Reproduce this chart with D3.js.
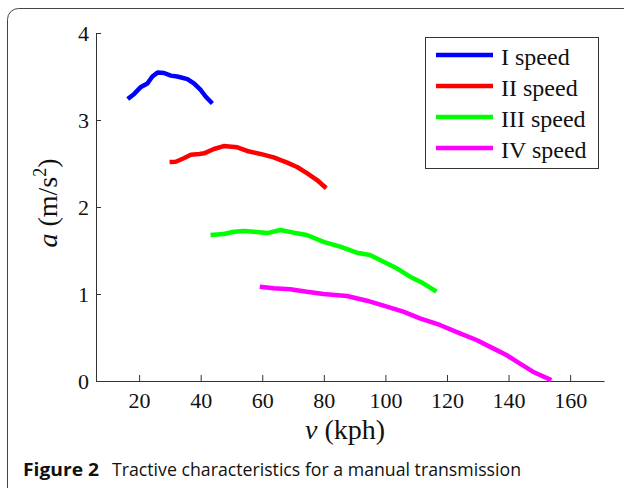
<!DOCTYPE html>
<html><head><meta charset="utf-8">
<script src="https://cdn.jsdelivr.net/npm/d3@7"></script>
<style>body{margin:0;background:#fff}svg{display:block}</style>
</head><body><svg id="c" width="624" height="488"></svg>
<script>
const seriesNames = ["I speed", "II speed", "III speed", "IV speed"];
const seriesColors = ["#0000ff", "#ff0000", "#00ff00", "#ff00ff"];
const xTicks = [20, 40, 60, 80, 100, 120, 140, 160];
const yTicks = [0, 1, 2, 3, 4];
const gear1X = [16.3, 18.4, 20.6, 22.7, 24.3, 26.0, 28.1, 30.3, 32.4, 35.7, 37.8, 40.0, 41.6, 43.8];
const gear1Y = [3.24, 3.30, 3.38, 3.42, 3.50, 3.545, 3.54, 3.51, 3.50, 3.47, 3.42, 3.345, 3.27, 3.19];
const gear2X = [29.9, 31.9, 34.5, 36.8, 39.6, 41.1, 44.3, 47.5, 51.9, 55.1, 59.4, 63.7, 68.1, 71.3, 74.5, 77.8, 80.8];
const gear2Y = [2.517, 2.52, 2.56, 2.60, 2.61, 2.617, 2.667, 2.70, 2.686, 2.644, 2.61, 2.57, 2.51, 2.46, 2.39, 2.31, 2.215];
const gear3X = [43.2, 47.5, 50.8, 54.0, 57.3, 61.6, 65.9, 70.2, 74.5, 79.9, 85.3, 90.7, 95.0, 99.4, 103.7, 108.0, 112.3, 116.6];
const gear3Y = [1.678, 1.69, 1.716, 1.724, 1.716, 1.70, 1.736, 1.705, 1.678, 1.60, 1.544, 1.475, 1.448, 1.371, 1.295, 1.199, 1.123, 1.027];
const gear4X = [59.2, 63.7, 69.1, 74.5, 79.9, 87.5, 94.0, 99.4, 105.8, 111.2, 117.7, 124.2, 129.6, 135.0, 139.3, 143.6, 147.9, 153.9];
const gear4Y = [1.084, 1.065, 1.054, 1.027, 1.0, 0.977, 0.923, 0.866, 0.797, 0.72, 0.644, 0.548, 0.471, 0.375, 0.299, 0.203, 0.107, 0.01];

const series = [[gear1X, gear1Y], [gear2X, gear2Y], [gear3X, gear3Y], [gear4X, gear4Y]]
  .map(([xs, ys], i) => ({name: seriesNames[i], color: seriesColors[i], pts: xs.map((x, j) => [x, ys[j]])}));

const svg = d3.select("#c");
// outer frame
svg.append("rect").attr("x", 7.5).attr("y", 8.5).attr("width", 640).attr("height", 500)
  .attr("rx", 11).attr("fill", "none").attr("stroke", "#444").attr("stroke-width", 1);

const x = d3.scaleLinear().domain([6, 171]).range([96, 604]);
const y = d3.scaleLinear().domain([0, 4]).range([381, 33]);
const serif = "'Liberation Serif', 'Times New Roman', serif";

const xAxis = svg.append("g").attr("transform", "translate(0,381)")
  .call(d3.axisBottom(x).tickValues(xTicks).tickFormat(d3.format("d")).tickSizeInner(-6).tickSizeOuter(0).tickPadding(14));
const yAxis = svg.append("g").attr("transform", "translate(96,0)")
  .call(d3.axisLeft(y).tickValues(yTicks).tickFormat(d3.format("d")).tickSizeInner(-5).tickSizeOuter(0).tickPadding(7));
[xAxis, yAxis].forEach(g => {
  g.select(".domain").attr("stroke", "#333");
  g.selectAll(".tick line").attr("stroke", "#333");
  g.selectAll("text").attr("font-family", serif).attr("font-size", 22).attr("fill", "#111");
});
xAxis.selectAll("text").attr("dy", "0.71em").attr("y", 11);
yAxis.selectAll("text").attr("dy", "0.34em");

const line = d3.line().x(d => x(d[0])).y(d => y(d[1]));
svg.append("g").selectAll("path").data(series).join("path")
  .attr("d", d => line(d.pts)).attr("fill", "none").attr("stroke", d => d.color)
  .attr("stroke-width", 4.5).attr("stroke-linejoin", "round");

// axis labels
const xl = svg.append("text").attr("x", 345).attr("y", 439).attr("text-anchor", "middle")
  .attr("font-family", serif).attr("font-size", 28).attr("fill", "#111");
xl.append("tspan").attr("font-style", "italic").text("v");
xl.append("tspan").text(" (kph)");

const yl = svg.append("text").attr("transform", "translate(57,203) rotate(-90)").attr("text-anchor", "middle")
  .attr("font-family", serif).attr("font-size", 28).attr("fill", "#111");
yl.append("tspan").attr("font-style", "italic").text("a");
yl.append("tspan").text(" (m/s");
yl.append("tspan").attr("font-size", 18).attr("dy", -11).text("2");
yl.append("tspan").attr("dy", 11).text(")");

// legend
const lg = svg.append("g");
lg.append("rect").attr("x", 425.5).attr("y", 37.5).attr("width", 173).attr("height", 131)
  .attr("fill", "#fff").attr("stroke", "#333").attr("stroke-width", 1);
const ly = d3.scalePoint().domain(seriesNames).range([55, 148]);
const items = lg.selectAll("g.it").data(series).join("g").attr("class", "it")
  .attr("transform", d => `translate(0,${ly(d.name)})`);
items.append("line").attr("x1", 436).attr("x2", 493).attr("stroke", d => d.color).attr("stroke-width", 4.5);
items.append("text").attr("x", 501).attr("y", 9.5).attr("font-family", serif).attr("font-size", 24)
  .attr("fill", "#111").text(d => d.name);

// caption
const cap = svg.append("text").attr("y", 476).attr("font-family", "'Open Sans', 'Noto Sans', sans-serif")
  .attr("font-size", 18).attr("fill", "#111");
cap.append("tspan").attr("x", 23).attr("font-weight", "bold").attr("textLength", 76)
  .attr("lengthAdjust", "spacingAndGlyphs").text("Figure 2");
cap.append("tspan").attr("x", 112).attr("textLength", 409).attr("lengthAdjust", "spacingAndGlyphs")
  .text("Tractive characteristics for a manual transmission");
</script></body></html>
